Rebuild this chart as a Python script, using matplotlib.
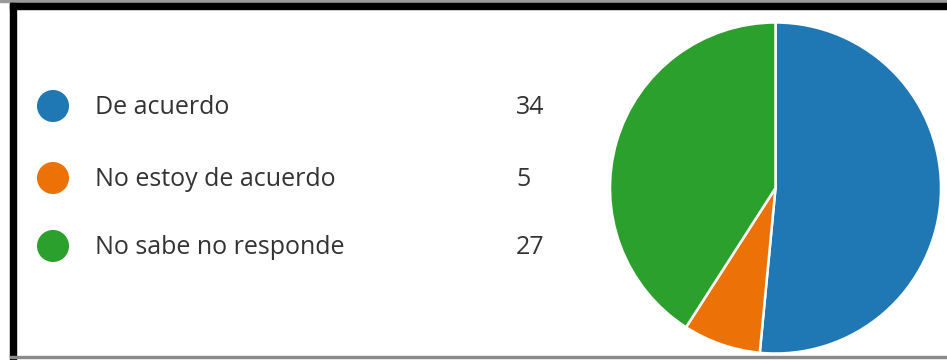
import matplotlib.pyplot as plt
from matplotlib.patches import Rectangle

# survey answers
labels = ["De acuerdo", "No estoy de acuerdo", "No sabe no responde"]
counts = [34, 5, 27]
colors = ["#1f77b4", "#ec7208", "#2ca02c"]

W, H = 947, 360
fig = plt.figure(figsize=(W / 100, H / 100), dpi=100)
fig.patch.set_facecolor("white")

# frame around the card (pixel coords, y from top)
def px_rect(x, y, w, h, color):
    fig.patches.append(Rectangle((x / W, 1 - (y + h) / H), w / W, h / H,
                                 transform=fig.transFigure, color=color, zorder=0))

# legend column
leg = fig.add_axes([0, 0, 1, 1])
leg.set_xlim(0, W)
leg.set_ylim(H, 0)
leg.axis("off")
row_y = [106, 178, 246]
for i, (lab, n, c) in enumerate(zip(labels, counts, colors)):
    leg.scatter(53, row_y[i], s=32 ** 2 * 0.52, color=c, edgecolors="none")
    leg.text(95, row_y[i] + 1, lab, fontsize=18, family="Open Sans",
             color="#333333", va="center", ha="left")
    leg.text(516, row_y[i] + 1, str(n), fontsize=18, family="Open Sans",
             color="#333333", va="center", ha="left")

# pie
cx, cy, r = 775.5, 188, 165.5
ax = fig.add_axes([(cx - r) / W, 1 - (cy + r) / H, 2 * r / W, 2 * r / H])
ax.pie(counts, colors=colors, startangle=90, counterclock=False,
       wedgeprops=dict(edgecolor="white", linewidth=1.8))
ax.set_xlim(-1, 1)
ax.set_ylim(-1, 1)
ax.set_aspect("equal")
ax.axis("off")

px_rect(0, 0, W, 2, "#9a9a9a")
px_rect(10, 3, W - 10, 6, "black")
px_rect(10, 3, 6, H - 3, "black")
px_rect(10, 356, W - 10, 2, "#8a8a8a")

fig.savefig("out.png", dpi=100)
